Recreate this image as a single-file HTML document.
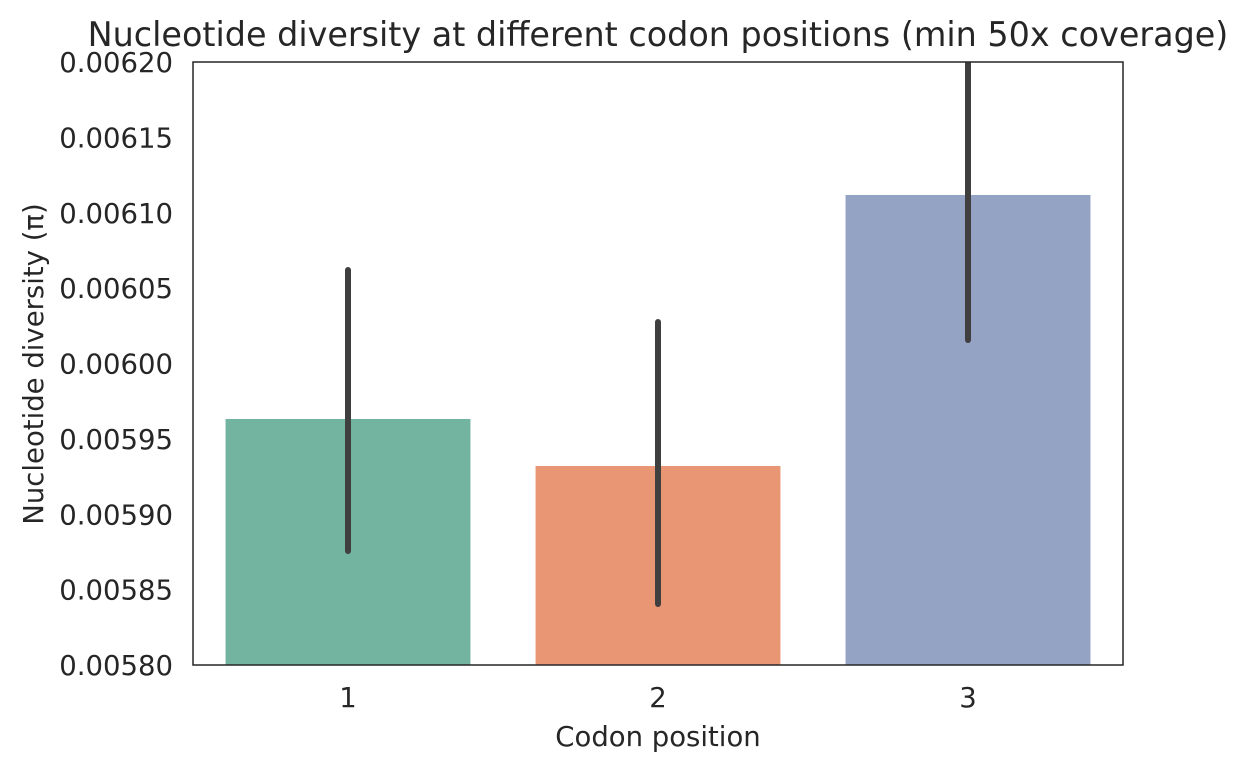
<!DOCTYPE html>
<html><head><meta charset="utf-8"><style>
body{margin:0;background:#fff;}
svg text{font-family:"DejaVu Sans","Liberation Sans",sans-serif;fill:#262626;}
</style></head><body>
<svg id="chart" width="1248" height="773" xmlns="http://www.w3.org/2000/svg">
<defs><clipPath id="clip"><rect x="193" y="62" width="930" height="603"/></clipPath></defs>
<text x="658" y="46" font-size="33.4" text-anchor="middle">Nucleotide diversity at different codon positions (min 50x coverage)</text>
<g id="bars" clip-path="url(#clip)"></g>
<g id="yticks"></g><g id="xticks"></g>
<rect x="193" y="62" width="930" height="603" fill="none" stroke="#262626" stroke-width="1.5"/>
<text x="658" y="746" font-size="27.5" text-anchor="middle">Codon position</text>
<text transform="translate(43,364) rotate(-90)" font-size="27.5" text-anchor="middle">Nucleotide diversity (π)</text>
</svg>
<script>
const categories=["1","2","3"];
const values=[0.0059632,0.005932,0.0061118];
const errLow=[0.0058756,0.0058405,0.0060156];
const errHigh=[0.006062,0.0060275,0.00623];
const colors=["#73b4a0","#e89674","#94a3c3"];
const yTicks=[0.0058,0.00585,0.0059,0.00595,0.006,0.00605,0.0061,0.00615,0.0062];
const yTickLabels=["0.00580","0.00585","0.00590","0.00595","0.00600","0.00605","0.00610","0.00615","0.00620"];
const X0=193,X1=1123,Y0=665,Y1=62,YMIN=0.0058,YMAX=0.0062;
const ns="http://www.w3.org/2000/svg";
function y(v){return Y0-(v-YMIN)/(YMAX-YMIN)*(Y0-Y1);}
const band=(X1-X0)/categories.length;
function xc(i){return X0+band*(i+0.5);}
function mk(t,a,p){const e=document.createElementNS(ns,t);for(const k in a)e.setAttribute(k,a[k]);p.appendChild(e);return e;}
const gb=document.getElementById('bars'),gy=document.getElementById('yticks'),gx=document.getElementById('xticks');
const bw=band*0.79;
categories.forEach((c,i)=>{
  const r=mk('rect',{x:xc(i)-bw/2,y:y(values[i]),width:bw,height:Y0-y(values[i]),fill:colors[i]},gb);
  
  
  const l=mk('line',{x1:xc(i),x2:xc(i),y1:y(errLow[i]),y2:y(errHigh[i]),stroke:'#3f3f3f','stroke-width':6,'stroke-linecap':'round'},gb);
  
  
  const t=mk('text',{x:xc(i),y:707,'font-size':27.5,'text-anchor':'middle'},gx);
  t.textContent=c;
  
  
});
yTicks.forEach((v,i)=>{
  const t=mk('text',{x:173,y:y(v)+10,'font-size':27.5,'text-anchor':'end'},gy);
  t.textContent=yTickLabels[i];
  
  
});
</script>
</body></html>
